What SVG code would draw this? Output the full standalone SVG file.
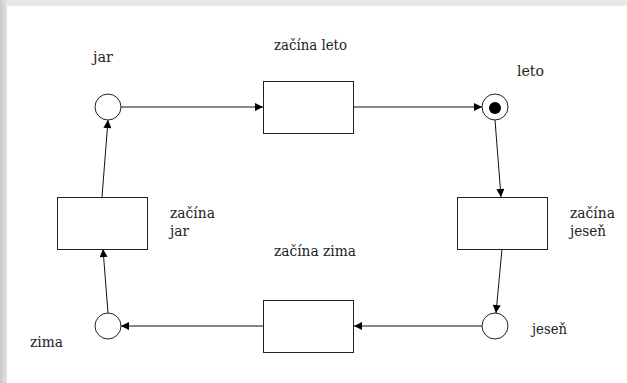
<svg xmlns="http://www.w3.org/2000/svg" width="627" height="383" viewBox="0 0 627 383">
<defs>
<linearGradient id="lg" x1="0" y1="0" x2="1" y2="0">
<stop offset="0" stop-color="#c8c8c8"/>
<stop offset="1" stop-color="#e4e4e4"/>
</linearGradient>
<marker id="ah" viewBox="0 0 10 10" refX="10" refY="5" markerWidth="9" markerHeight="8" markerUnits="userSpaceOnUse" orient="auto">
<path d="M0,0 L10,5 L0,10 Z" fill="#000"/>
</marker>
</defs>
<style>
.pl{fill:#fff;stroke:#222;stroke-width:1}
.tr{fill:#fff;stroke:#222;stroke-width:1}
.ed{stroke:#111;stroke-width:1;fill:none;marker-end:url(#ah)}
.lb{font-family:"DejaVu Serif","Liberation Serif",serif;font-size:14px;fill:#222}
</style>
<rect x="0" y="0" width="627" height="383" fill="#fff"/>
<rect x="0" y="0" width="627" height="6" fill="#e8e8e8"/>
<rect x="0" y="0" width="7" height="383" fill="url(#lg)"/>
<g id="connectors">
<line class="ed" x1="121" y1="107" x2="263" y2="107"/>
<line class="ed" x1="354" y1="107" x2="482" y2="107"/>
<line class="ed" x1="495" y1="120" x2="501" y2="197"/>
<line class="ed" x1="502" y1="249" x2="496" y2="313"/>
<line class="ed" x1="482" y1="326" x2="354" y2="326"/>
<line class="ed" x1="263" y1="326" x2="121" y2="326"/>
<line class="ed" x1="108" y1="313" x2="103" y2="249"/>
<line class="ed" x1="102" y1="197" x2="108" y2="120"/>
</g>
<g id="p-jar">
<circle class="pl" cx="108" cy="107" r="13"/>
<text class="lb" x="93" y="62" textLength="20" lengthAdjust="spacingAndGlyphs">jar</text>
</g>
<g id="p-leto">
<circle class="pl" cx="495" cy="107" r="13"/>
<circle cx="495" cy="108" r="6" fill="#000"/>
<text class="lb" x="517" y="76" textLength="27" lengthAdjust="spacingAndGlyphs">leto</text>
</g>
<g id="p-jesen">
<circle class="pl" cx="495" cy="326" r="13"/>
<text class="lb" x="532" y="334" textLength="35" lengthAdjust="spacingAndGlyphs">jeseň</text>
</g>
<g id="p-zima">
<circle class="pl" cx="108" cy="326" r="13"/>
<text class="lb" x="30" y="347" textLength="33" lengthAdjust="spacingAndGlyphs">zima</text>
</g>
<g id="t-zacina-leto">
<rect class="tr" x="263.5" y="81.5" width="90" height="52"/>
<text class="lb" x="274" y="50" textLength="73" lengthAdjust="spacingAndGlyphs">začína leto</text>
</g>
<g id="t-zacina-jesen">
<rect class="tr" x="457.5" y="197.5" width="90" height="52"/>
<text class="lb" x="570" y="218" textLength="45" lengthAdjust="spacingAndGlyphs">začína</text>
<text class="lb" x="570" y="236" textLength="36" lengthAdjust="spacingAndGlyphs">jeseň</text>
</g>
<g id="t-zacina-zima">
<rect class="tr" x="263.5" y="300.5" width="90" height="52"/>
<text class="lb" x="274" y="256" textLength="82" lengthAdjust="spacingAndGlyphs">začína zima</text>
</g>
<g id="t-zacina-jar">
<rect class="tr" x="57.5" y="197.5" width="90" height="52"/>
<text class="lb" x="170" y="218" textLength="45" lengthAdjust="spacingAndGlyphs">začína</text>
<text class="lb" x="170" y="236" textLength="19" lengthAdjust="spacingAndGlyphs">jar</text>
</g>
</svg>
